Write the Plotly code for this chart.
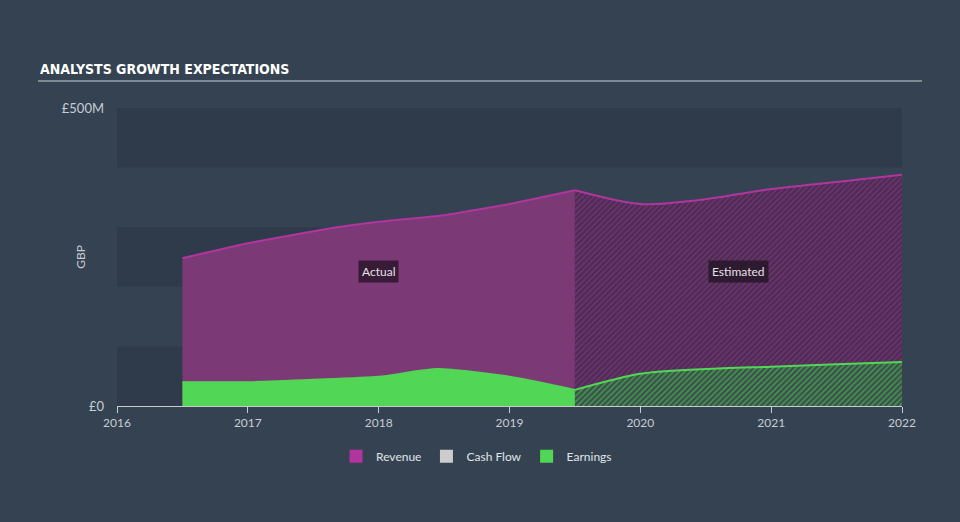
import plotly.graph_objects as go

# Data (GBP millions), x as decimal years
rev_act_x = [2016.5, 2017.0, 2017.6, 2018.0, 2018.5, 2019.0, 2019.5]
rev_act_y = [248, 273, 297, 309, 320, 339, 362]
rev_est_x = [2019.5, 2020.0, 2020.5, 2021.0, 2021.5, 2022.0]
rev_est_y = [362, 339, 347, 364, 376, 388]

earn_act_x = [2016.5, 2017.0, 2017.5, 2018.0, 2018.45, 2019.0, 2019.5]
earn_act_y = [40, 40, 44, 49, 62, 49, 27]
earn_est_x = [2019.5, 2020.0, 2020.5, 2021.0, 2021.5, 2022.0]
earn_est_y = [27, 54, 62, 66, 70, 74]

tick_years = [2016, 2017, 2018, 2019, 2020, 2021, 2022]
y_ticks = [0, 500]
y_tick_labels = ["£0", "£500M"]

BG = "#344252"
BAND = "#2f3b4a"
REV_LINE = "#b0359f"
REV_FILL = "#7b3a75"
EARN = "#52d655"
FONT = "Lato, Open Sans, sans-serif"

fig = go.Figure()

# background bands
for lo in [0, 200, 400]:
    fig.add_shape(type="rect", xref="x", yref="y", x0=2016, x1=2022, y0=lo, y1=lo + 100,
                  fillcolor=BAND, line_width=0, layer="below")

fig.add_trace(go.Scatter(x=rev_act_x, y=rev_act_y, fill="tozeroy", mode="lines",
                         line=dict(color=REV_LINE, width=2, shape="spline", smoothing=0.4),
                         fillcolor=REV_FILL, showlegend=False, hoverinfo="skip"))
fig.add_trace(go.Scatter(x=rev_est_x, y=rev_est_y, fill="tozeroy", mode="lines",
                         line=dict(color=REV_LINE, width=2, shape="spline", smoothing=0.8),
                         fillcolor="#4d2d57",
                         fillpattern=dict(shape="/", fgcolor="#93378b", bgcolor="#4a2d52",
                                          size=4, solidity=0.45),
                         showlegend=False, hoverinfo="skip"))
fig.add_trace(go.Scatter(x=earn_act_x, y=earn_act_y, fill="tozeroy", mode="lines",
                         line=dict(color=EARN, width=2, shape="spline", smoothing=0.6),
                         fillcolor=EARN, showlegend=False, hoverinfo="skip"))
fig.add_trace(go.Scatter(x=earn_est_x, y=earn_est_y, fill="tozeroy", mode="lines",
                         line=dict(color=EARN, width=2, shape="spline", smoothing=0.8),
                         fillcolor="#3e6a48",
                         fillpattern=dict(shape="/", fgcolor="#52d655", bgcolor="#3a4f4a",
                                          size=4, solidity=0.45),
                         showlegend=False, hoverinfo="skip"))

# legend entries
for name, col in [("Revenue", "#b0359f"), ("Cash Flow", "#cccccc"), ("Earnings", "#52d655")]:
    fig.add_trace(go.Scatter(x=[None], y=[None], mode="markers", name=name,
                             marker=dict(symbol="square", size=13, color=col)))

fig.add_annotation(x=2018.0, y=225, text="Actual", showarrow=False, bgcolor="rgba(45,22,45,0.85)",
                   font=dict(color="#e6e0e8", size=12, family=FONT), borderpad=3)
fig.add_annotation(x=2020.75, y=225, text="Estimated", showarrow=False, bgcolor="rgba(38,22,40,0.85)",
                   font=dict(color="#e6e0e8", size=12, family=FONT), borderpad=3)

# title and underline
fig.add_annotation(xref="paper", yref="paper", x=-0.1006, y=1.0, xanchor="left", yanchor="bottom",
                   yshift=29, text="<b>ANALYSTS GROWTH EXPECTATIONS</b>", showarrow=False,
                   font=dict(color="#ffffff", size=14,
                             family="DejaVu Sans Condensed, Liberation Sans Narrow, Roboto Condensed, sans-serif"))
fig.add_shape(type="line", xref="paper", yref="paper", x0=-0.1006, x1=1.0255, y0=1.0906, y1=1.0906,
              line=dict(color="#9aa3ad", width=1.5))

# y axis title
fig.add_annotation(xref="paper", yref="paper", x=-0.0475, y=0.5, xanchor="center",
                   text="GBP", textangle=-90, xshift=0,
                   showarrow=False, font=dict(size=12, color="#c8ccd2", family=FONT))

fig.update_layout(
    width=960, height=522,
    paper_bgcolor=BG, plot_bgcolor=BG,
    margin=dict(l=117, r=58, t=108, b=116),
    font=dict(family=FONT, color="#c8ccd2", size=12),
    xaxis=dict(range=[2016, 2022], tickmode="array", tickvals=tick_years,
               ticktext=[str(t) for t in tick_years], showgrid=False, zeroline=False,
               showline=True, linecolor="#c8ccd2", linewidth=1, ticks="outside",
               ticklen=6, tickcolor="#c8ccd2", fixedrange=True),
    yaxis=dict(range=[0, 500], tickmode="array", tickvals=y_ticks, ticktext=y_tick_labels,
               showgrid=False, zeroline=False, showline=False, ticklabelstandoff=12,
               tickfont=dict(size=13)),
    legend=dict(orientation="h", x=0.458, xanchor="center", y=-0.12, yanchor="top",
                font=dict(size=12, color="#e0e3e8"), bgcolor="rgba(0,0,0,0)",
                itemwidth=30),
)

fig.write_html("out.html")
